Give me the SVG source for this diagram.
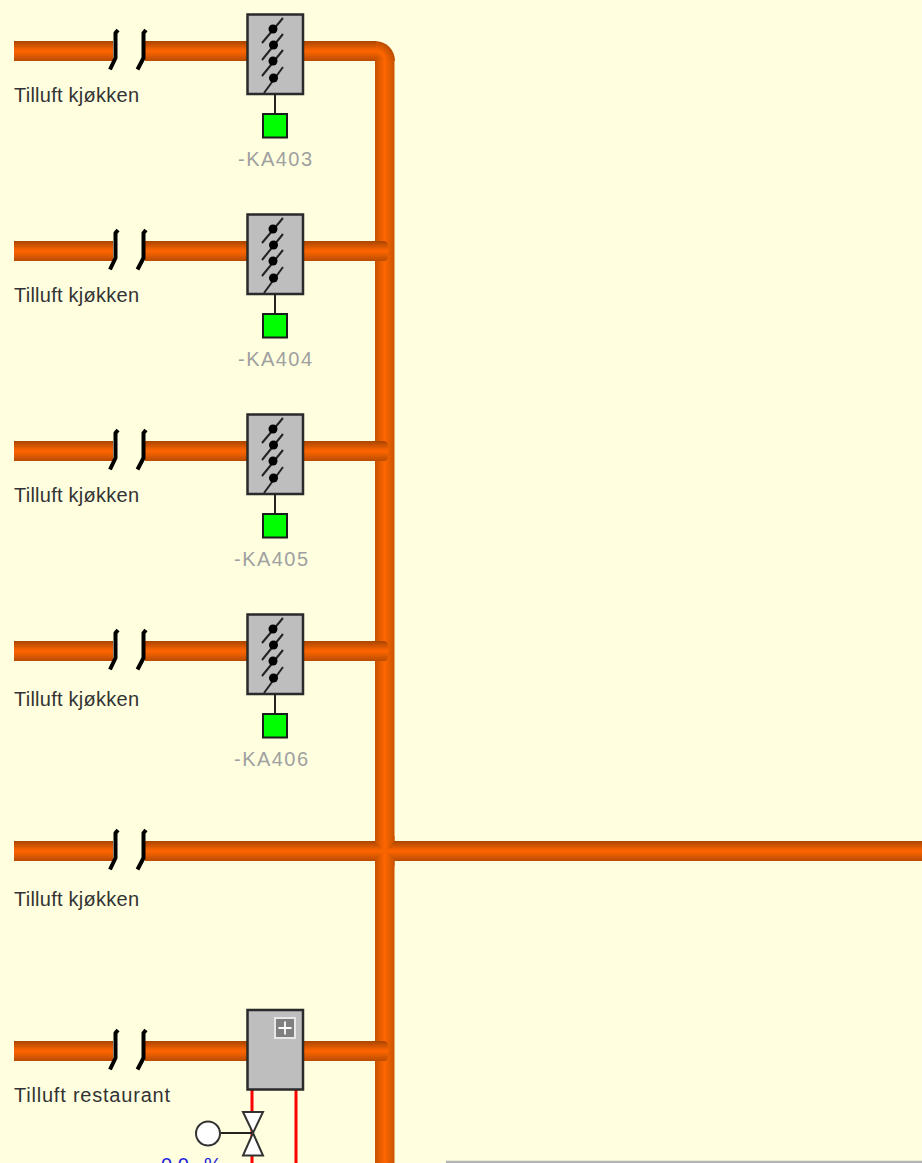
<svg xmlns="http://www.w3.org/2000/svg" xmlns:xlink="http://www.w3.org/1999/xlink" width="922" height="1163" viewBox="0 0 922 1163">
<style>
text{font-family:"Liberation Sans",Arial,sans-serif;font-size:20px}
.lbl{fill:#333}
.tag{fill:#a0a0a0}
.val{fill:#1a1ae0}
.h{fill:url(#gh)}
.v{fill:url(#gv)}
.box{fill:#bebebe;stroke:#2a2a2a;stroke-width:2.5}
.thin{fill:none;stroke:#222;stroke-width:2}
.brk{fill:none;stroke:#000;stroke-width:4;stroke-linejoin:round}
.red{stroke:#ff0000;stroke-width:3;fill:none}
.sensor{fill:#00ff00;stroke:#1a1a1a;stroke-width:2}
.hw{fill:#fff;stroke:#333;stroke-width:2}
</style>
<defs>
<filter id="soft" x="-5%" y="-5%" width="110%" height="110%"><feGaussianBlur stdDeviation="0.5"/></filter>
<linearGradient id="gh" x1="0" y1="0" x2="0" y2="1"><stop offset="0" stop-color="#a84500"/><stop offset="0.5" stop-color="#ff6600"/><stop offset="1" stop-color="#b84c00"/></linearGradient>
<linearGradient id="gv" x1="0" y1="0" x2="1" y2="0"><stop offset="0" stop-color="#c85200"/><stop offset="0.5" stop-color="#ff6600"/><stop offset="1" stop-color="#c85200"/></linearGradient>
<radialGradient id="gc" gradientUnits="userSpaceOnUse" cx="375" cy="61" r="20"><stop offset="0" stop-color="#b84c00"/><stop offset="0.5" stop-color="#ff6600"/><stop offset="1" stop-color="#b84c00"/></radialGradient>
<g id="brk"><path class="brk" d="M118 30L115.500 33V58L110 69.500"/><path class="brk" d="M146 30L143.500 33V58L137.500 69.500"/></g>
<path id="tee" class="h" d="M145 41H383Q388 41 388 46V56Q388 61 383 61H145Z"/>
<g id="damper">
<rect class="box" x="247.500" y="14.500" width="55.500" height="79.500"/>
<path class="thin" d="M262 43L283 18M262 60L283 34M262 76L283 50M264 93L283 67"/>
<circle cx="273" cy="29" r="4.500"/><circle cx="273.500" cy="45" r="4.500"/><circle cx="273" cy="61" r="4.500"/><circle cx="273.500" cy="78" r="4.500"/>
<path class="thin" d="M275 94V114"/>
<rect class="sensor" x="263" y="114" width="24" height="23.500"/>
</g>
</defs>
<rect width="922" height="1163" fill="#ffffdf"/>
<g id="connectors" filter="url(#soft)">
<path fill="url(#gc)" d="M375 41A20 20 0 0 1 395 61H375Z"/>
<rect class="v" x="375" y="60" width="19.500" height="782"/>
<rect class="v" x="375" y="860" width="19.500" height="303"/>
<rect x="375" y="841" width="19.500" height="20" fill="#e85c00"/>
<polygon class="h" points="145,841 375,841 384.700,851 375,861 145,861"/>
<polygon class="h" points="394.500,841 922,841 922,861 394.500,861 384.700,851"/>
<polygon class="v" points="375,836 394.500,836 394.500,841 384.700,851 375,841"/>
<polygon class="v" points="375,861 384.700,851 394.500,861 394.500,866 375,866"/>
<g id="pipes">
<rect class="h" x="14" y="41" width="99" height="20"/><rect class="h" x="145" y="41" width="231" height="20"/>
<rect class="h" x="14" y="241" width="99" height="20"/><use xlink:href="#tee" href="#tee" y="200"/>
<rect class="h" x="14" y="441" width="99" height="20"/><use xlink:href="#tee" href="#tee" y="400"/>
<rect class="h" x="14" y="641" width="99" height="20"/><use xlink:href="#tee" href="#tee" y="600"/>
<rect class="h" x="14" y="841" width="99" height="20"/>
<rect class="h" x="14" y="1041" width="99" height="20"/><use xlink:href="#tee" href="#tee" y="1000"/>
</g>
<path class="red" d="M252 1090V1163M296 1090V1163"/>
<path d="M221 1133H252" class="thin"/>
<path d="M446 1162H922" stroke="#b4b4b4" stroke-width="2.500" fill="none"/>
</g>
<g filter="url(#soft)">
<use id="break-1" xlink:href="#brk" href="#brk"/>
<use id="break-2" xlink:href="#brk" href="#brk" y="200"/>
<use id="break-3" xlink:href="#brk" href="#brk" y="400"/>
<use id="break-4" xlink:href="#brk" href="#brk" y="600"/>
<use id="break-5" xlink:href="#brk" href="#brk" y="800"/>
<use id="break-6" xlink:href="#brk" href="#brk" y="1000"/>
</g>
<g id="KA403"><use filter="url(#soft)" xlink:href="#damper" href="#damper"/><text class="tag" x="238" y="166" textLength="74">-KA403</text></g>
<g id="KA404"><use filter="url(#soft)" xlink:href="#damper" href="#damper" y="200"/><text class="tag" x="238" y="366" textLength="74">-KA404</text></g>
<g id="KA405"><use filter="url(#soft)" xlink:href="#damper" href="#damper" y="400"/><text class="tag" x="234" y="566" textLength="74">-KA405</text></g>
<g id="KA406"><use filter="url(#soft)" xlink:href="#damper" href="#damper" y="600"/><text class="tag" x="234" y="766" textLength="74">-KA406</text></g>
<g id="heater" filter="url(#soft)">
<rect class="box" x="247.500" y="1010" width="55.500" height="79.500"/>
<rect x="275" y="1018" width="20" height="20" fill="#808080" stroke="#e8e8e8" stroke-width="2"/>
<path d="M285 1021.500V1034.500M278.500 1028H291.500" stroke="#fff" stroke-width="1.800" fill="none"/>
</g>
<g id="valve" filter="url(#soft)">
<circle class="hw" cx="208" cy="1133.500" r="12"/>
<polygon class="hw" points="243,1112 263,1112 253,1133"/>
<polygon class="hw" points="243,1155.500 263,1155.500 253,1133"/>
</g>
<g id="labels">
<text class="lbl" x="14" y="102" textLength="125">Tilluft kjøkken</text>
<text class="lbl" x="14" y="302" textLength="125">Tilluft kjøkken</text>
<text class="lbl" x="14" y="502" textLength="125">Tilluft kjøkken</text>
<text class="lbl" x="14" y="706" textLength="125">Tilluft kjøkken</text>
<text class="lbl" x="14" y="906" textLength="125">Tilluft kjøkken</text>
<text class="lbl" x="14" y="1102" textLength="156">Tilluft restaurant</text>
<text class="val" x="161" y="1172">0.0</text>
<text class="val" x="204" y="1172">%</text>
</g>
</svg>
